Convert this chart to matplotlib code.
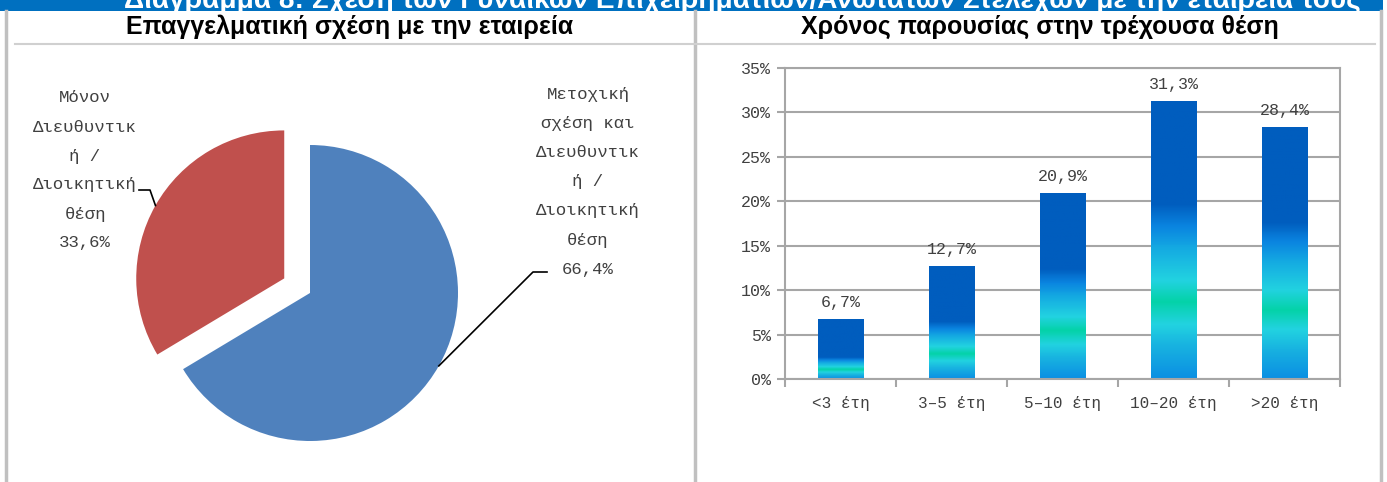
import numpy as np
import matplotlib
matplotlib.use("Agg")
import matplotlib.pyplot as plt
from matplotlib.colors import LinearSegmentedColormap
from matplotlib.lines import Line2D
from matplotlib.patches import Rectangle
from matplotlib.transforms import IdentityTransform

W, H = 1387, 482

banner_title = "Διάγραμμα 8: Σχέση των Γυναικών Επιχειρηματιών/Ανώτατων Στελεχών με την εταιρεία τους"
pie_title = "Επαγγελματική σχέση με την εταιρεία"
bar_title = "Χρόνος παρουσίας στην τρέχουσα θέση"

# pie: professional relationship with the company
pie_shares = [66.4, 33.6]
pie_labels = [["Μετοχική", "σχέση και", "Διευθυντικ", "ή /", "Διοικητική", "θέση"],
              ["Μόνον", "Διευθυντικ", "ή /", "Διοικητική", "θέση"]]
pie_colors = ["#4f81bd", "#c0504d"]

# bars: years in current position
years_cats = ["<3 έτη", "3–5 έτη", "5–10 έτη", "10–20 έτη", ">20 έτη"]
years_pct = [6.7, 12.7, 20.9, 31.3, 28.4]
y_ticks = [0, 5, 10, 15, 20, 25, 30, 35]

mono = "Liberation Mono"
txt_grey = "#404040"
frame_grey = "#c0c0c0"


def fmt(v):
    return f"{v:.1f}%".replace(".", ",")


fig = plt.figure(figsize=(W / 100, H / 100), dpi=100)
fig.patch.set_facecolor("white")

# banner strip with the diagram title, its top runs off the page
fig.add_artist(Rectangle((0, H - 11), 1383, 11, transform=IdentityTransform(),
                         facecolor="#0070c0", edgecolor="none"))
fig.text(742 / W, 1 - 8 / H, banner_title, ha="center", va="baseline",
         color="white", fontsize=20.2, fontweight="bold", family="Liberation Sans")

# table frame lines
for x in (6, 695, 1381):
    fig.add_artist(Line2D([x, x], [0, H - 11], transform=IdentityTransform(),
                          color=frame_grey, lw=2.5))
fig.add_artist(Line2D([15, 1375], [H - 44, H - 44], transform=IdentityTransform(),
                      color="#d0d0d0", lw=1.5))

fig.text(350 / W, 1 - 27 / H, pie_title, ha="center", va="center",
         fontsize=18, fontweight="bold", family="Liberation Sans")
fig.text(1040 / W, 1 - 27 / H, bar_title, ha="center", va="center",
         fontsize=18, fontweight="bold", family="Liberation Sans")

# ---- pie ----
r_px = 148
cx, cy = 310, 293
half = 200
ax1 = fig.add_axes([(cx - half) / W, (H - cy - half) / H, 2 * half / W, 2 * half / H])
wedges, _ = ax1.pie(pie_shares, colors=pie_colors, startangle=90, counterclock=False,
                    explode=[0, 0.2], radius=1, frame=True,
                    wedgeprops=dict(linewidth=0))
ax1.set_xlim(-half / r_px, half / r_px)
ax1.set_ylim(-half / r_px, half / r_px)
ax1.axis("off")


def edge_point(w):
    ang = np.deg2rad((w.theta1 + w.theta2) / 2)
    c = w.center
    return ax1.transData.transform((c[0] + w.r * np.cos(ang), c[1] + w.r * np.sin(ang)))


# labels: blue on the right, red on the left
label_pos = [(588, 94, 29.2), (85, 98, 29)]
for w, lines, share, (lx, ly, step) in zip(wedges, pie_labels, pie_shares, label_pos):
    all_lines = lines + [fmt(share)]
    for i, s in enumerate(all_lines):
        fig.text(lx / W, 1 - (ly + i * step) / H, s, ha="center", va="center",
                 fontsize=12.5, family=mono, color=txt_grey)

ex, ey = edge_point(wedges[0])
fig.add_artist(Line2D([ex, 533, 547], [ey, H - 272, H - 272],
                      transform=IdentityTransform(), color="black", lw=1.2))
ex, ey = edge_point(wedges[1])
fig.add_artist(Line2D([ex, 150, 139], [ey, H - 190, H - 190],
                      transform=IdentityTransform(), color="black", lw=1.2))

# ---- bars ----
ax2 = fig.add_axes([785 / W, (H - 379) / H, 555 / W, 311 / H])
ax2.set_yticks(y_ticks)
ax2.set_yticklabels([f"{t}%" for t in y_ticks], family=mono, fontsize=12, color=txt_grey)
ax2.yaxis.grid(True, color="#a6a6a6", lw=1.5)
ax2.set_axisbelow(True)
for sp in ax2.spines.values():
    sp.set_color("#a6a6a6")
    sp.set_linewidth(1.5)
ax2.tick_params(axis="y", length=6, width=1.5, color="#a6a6a6", pad=4)

xpos = np.arange(len(years_cats))
ax2.set_xticks(np.arange(len(years_cats) + 1) - 0.5)
ax2.set_xticklabels([])
ax2.set_xticks(xpos, minor=True)
ax2.set_xticklabels(years_cats, minor=True, family=mono, fontsize=11.5, color=txt_grey)
ax2.tick_params(axis="x", which="major", length=6, width=1.5, color="#a6a6a6")
ax2.tick_params(axis="x", which="minor", length=0, pad=12)

grad_cmap = LinearSegmentedColormap.from_list("barfill", [
    (0.00, "#0b8fe3"), (0.12, "#18b3e0"), (0.20, "#22d3e0"), (0.28, "#04d2a8"),
    (0.36, "#22d3e0"), (0.48, "#14a9e2"), (0.56, "#0a84e0"), (0.64, "#005dbe"),
    (1.00, "#005dbe")])
ramp = np.linspace(0, 1, 256).reshape(-1, 1)

bars = ax2.bar(xpos, years_pct, width=0.41, facecolor="none", edgecolor="none", zorder=2)
for b, v in zip(bars, years_pct):
    x0 = b.get_x()
    # short bars get a squeezed light section at the bottom
    k = 1 - np.exp(-v / 8)
    im = ax2.imshow(np.clip(ramp / k, 0, 1), cmap=grad_cmap, vmin=0, vmax=1,
                    origin="lower", aspect="auto",
                    extent=[x0, x0 + b.get_width(), 0, v], zorder=2)
    im.set_clip_path(b)
    ax2.annotate(fmt(v), (b.get_x() + b.get_width() / 2, v), xytext=(0, 9),
                 textcoords="offset pixels", ha="center", va="bottom",
                 fontsize=12, family=mono, color=txt_grey)
ax2.set_xlim(-0.5, len(years_cats) - 0.5)
ax2.set_ylim(0, 35)

fig.savefig("out.png", dpi=100)
